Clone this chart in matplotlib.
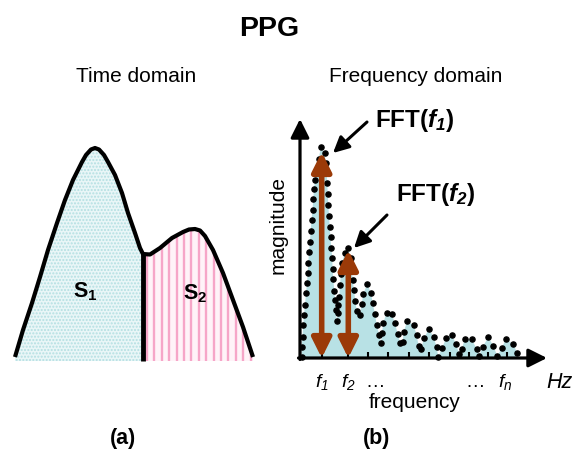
import numpy as np
import matplotlib
matplotlib.use("Agg")
import matplotlib.pyplot as plt
from matplotlib.patches import Polygon
from matplotlib.collections import LineCollection

plt.rcParams["font.family"] = ["Liberation Sans", "DejaVu Sans"]
plt.rcParams["mathtext.fontset"] = "custom"
plt.rcParams["mathtext.rm"] = "Liberation Sans:italic"
plt.rcParams["mathtext.it"] = "Liberation Sans:italic"
plt.rcParams["mathtext.sf"] = "Liberation Sans:bold"
plt.rcParams["mathtext.bf"] = "Liberation Sans:italic:bold"

# --- time domain pulse (arbitrary units) ---
t_pulse = np.array([15, 23, 32, 40, 48, 57, 65, 73, 82, 86, 91, 95, 99, 104, 108, 115,
                    122, 128, 135, 140, 143, 150, 160, 172, 183, 189, 195, 200, 205,
                    213, 223, 233, 243, 253])
a_pulse = np.array([3, 30, 57, 83, 110, 137, 160, 180, 198, 205, 210.5, 212, 210.5,
                    205, 198, 185, 167, 147, 127, 112, 106, 105.5, 112, 122, 128,
                    130.5, 131, 129.5, 124, 110, 87, 60, 33, 3])
t_split = 143

# --- spectrum samples (arbitrary units) ---
freq = np.array([1.5, 1.7, 2.5, 3.3, 4, 5, 6, 7, 7.7, 8.3, 9, 10, 10.7, 11.5, 12.5,
                 13.3, 14, 15, 16.7, 18.5, 21, 24.5, 26, 26.7, 27.3, 27.7, 28.3, 29,
                 29.7, 30.5, 31.2, 32.3, 32.5, 33.3, 34.3, 35, 35.7, 36.7, 37.7, 38.3,
                 39.3, 40, 41, 41.7, 45, 47.7, 50.5, 51.7, 52.7, 54, 55.3, 56.7, 60,
                 61.7, 63.3, 67.3, 71, 72.7, 75, 76.7, 79.3, 81, 82, 83.3, 86.7, 91.7,
                 95, 97.7, 100, 102.7, 103.7, 107.3, 113.5, 116.7, 118.5, 121, 124.2,
                 128.7, 133.5, 136.5, 138.3, 142, 146.3, 151.7, 156, 159.2, 161.7,
                 164.8, 171.7, 176.7, 179.3, 182.7, 188.3, 193.3, 197.3, 201.7, 205.7,
                 213.3, 217.3])
mag = np.array([1.3, 11.3, 21.5, 33, 43, 53, 64.7, 74.7, 84.7, 95.3, 106, 116.3, 127.3,
                138, 148, 159, 169, 178, 188, 199, 210.7, 205, 194.7, 184.7, 174.7, 164,
                153, 142, 131, 120.7, 110.5, 100, 89.5, 79, 67, 58, 48, 37.3, 44.7, 53,
                61.3, 73, 84, 94.7, 105, 110.5, 100, 88.7, 78, 68, 57.3, 47.3, 43, 54,
                64, 74, 64.7, 54.7, 44, 33, 23, 14.7, 25, 35.3, 45.5, 44, 34.7, 24,
                15.5, 16.5, 26.3, 37, 33, 23, 12.5, 9, 19.7, 29.2, 21.3, 11.3, 1, 10,
                20, 23, 14, 4, 8.7, 18.7, 18.7, 9, 2, 11.3, 20.7, 12.3, 2, 9.7, 18.7,
                14, 4.7])
tick_freq = [21.7, 48.3, 68, 88, 109, 129, 150, 169, 188, 207]
f1, f2 = 21.7, 48.3
fft_f1, fft_f2 = 206, 108

W, H = 578, 457
fig = plt.figure(figsize=(W / 100, H / 100), dpi=100)
fig.patch.set_facecolor("white")


def fx(px):
    return px / W


def fy(py):
    return 1 - py / H


# ---------------- (a) time domain ----------------
ax1 = fig.add_axes([0, fy(370), 270 / W, 240 / H])
ax1.set_xlim(0, 270); ax1.set_ylim(-10, 230); ax1.axis("off")

m1 = t_pulse <= t_split
m2 = t_pulse >= t_split
s1 = Polygon(np.column_stack([np.r_[t_pulse[m1], t_split, t_pulse[0]],
                              np.r_[a_pulse[m1], -1, -1]]),
             closed=True, facecolor="#e9f6f7", edgecolor="#b3dfe2", hatch=".....",
             lw=0, zorder=1)
ax1.add_patch(s1)
s2 = Polygon(np.column_stack([np.r_[t_pulse[m2], t_pulse[-1], t_split],
                              np.r_[a_pulse[m2], -1, -1]]),
             closed=True, facecolor="#fff3f8", lw=0, zorder=1)
ax1.add_patch(s2)
xs = np.arange(t_split + 4, 256, 7.4)
stripes = LineCollection([[(x, -5), (x, 140)] for x in xs], colors="#f6a6c8", lw=1.7,
                         zorder=2)
ax1.add_collection(stripes)
stripes.set_clip_path(s2)

ax1.plot(t_pulse, a_pulse, color="k", lw=3, solid_capstyle="butt",
         solid_joinstyle="round", zorder=3)
ax1.plot([t_split, t_split], [-1, 107], color="k", lw=3.5, solid_capstyle="butt", zorder=3)
ax1.text(85.5, 63, r"S$_\mathsf{1}$", ha="center", va="baseline", fontsize=15.5,
         fontweight="bold")
ax1.text(195, 61, r"S$_\mathsf{2}$", ha="center", va="baseline", fontsize=15.5,
         fontweight="bold")

# ---------------- (b) frequency domain ----------------
ax2 = fig.add_axes([fx(285), fy(370), 293 / W, 270 / H])
ax2.set_xlim(-15, 278); ax2.set_ylim(-12, 258); ax2.axis("off")

ax2.fill(np.r_[0, freq, freq[-1]], np.r_[0, mag, 0], color="#b8e1e5", lw=0, zorder=1)
ax2.plot(freq, mag, "o", color="k", ms=3.7, zorder=3)
ax2.vlines(tick_freq, 0, 6, color="k", lw=1.5, zorder=2)

ax_kw = dict(arrowstyle="-|>", color="k", lw=2.3, mutation_scale=28, shrinkA=0, shrinkB=0)
ax2.annotate("", xy=(0, 239), xytext=(0, -1.5), arrowprops=ax_kw, zorder=4)
ax2.annotate("", xy=(247, 0), xytext=(-1.5, 0), arrowprops=ax_kw, zorder=4)

br_kw = dict(arrowstyle="<|-|>", color="#9b3a08", lw=4, mutation_scale=29,
             shrinkA=0, shrinkB=0)
ax2.annotate("", xy=(f1, fft_f1), xytext=(f1, 0), arrowprops=br_kw, zorder=5)
ax2.annotate("", xy=(f2, fft_f2), xytext=(f2, 0), arrowprops=br_kw, zorder=5)

pt_kw = dict(arrowstyle="-|>", color="k", lw=2.2, mutation_scale=24, shrinkA=0, shrinkB=0)
ax2.annotate("", xy=(33, 205), xytext=(67, 236), arrowprops=pt_kw, zorder=5)
ax2.annotate("", xy=(54, 110), xytext=(87, 143), arrowprops=pt_kw, zorder=5)
ax2.text(115, 231, r"FFT($\mathbf{f_1}$)", ha="center", va="baseline", fontsize=17.5,
         fontweight="bold")
ax2.text(136, 157, r"FFT($\mathbf{f_2}$)", ha="center", va="baseline", fontsize=17.5,
         fontweight="bold")

lab_kw = dict(ha="center", va="baseline", fontsize=14)
ax2.text(f1, -29, r"$\mathit{f_1}$", **lab_kw)
ax2.text(f2, -29, r"$\mathit{f_2}$", **lab_kw)
ax2.text(75, -29, "…", **lab_kw)
ax2.text(175, -29, "…", **lab_kw)
ax2.text(205, -29, r"$\mathit{f_n}$", **lab_kw)
ax2.text(259, -30, "Hz", ha="center", va="baseline", fontsize=15.5, style="italic")
ax2.text(115, -50, "frequency", ha="center", va="baseline", fontsize=15)
ax2.text(-22, 133, "magnitude", ha="center", va="center", fontsize=15, rotation=90)

# ---------------- titles ----------------
fig.text(fx(269), fy(36), "PPG", ha="center", va="baseline", fontsize=20.5,
         fontweight="bold")
fig.text(fx(136), fy(82), "Time domain", ha="center", va="baseline", fontsize=15)
fig.text(fx(416), fy(82), "Frequency domain", ha="center", va="baseline", fontsize=15)
fig.text(fx(123), fy(444), "(a)", ha="center", va="baseline", fontsize=15.5,
         fontweight="bold")
fig.text(fx(377), fy(444), "(b)", ha="center", va="baseline", fontsize=15.5,
         fontweight="bold")

fig.savefig("out.png", dpi=100)
